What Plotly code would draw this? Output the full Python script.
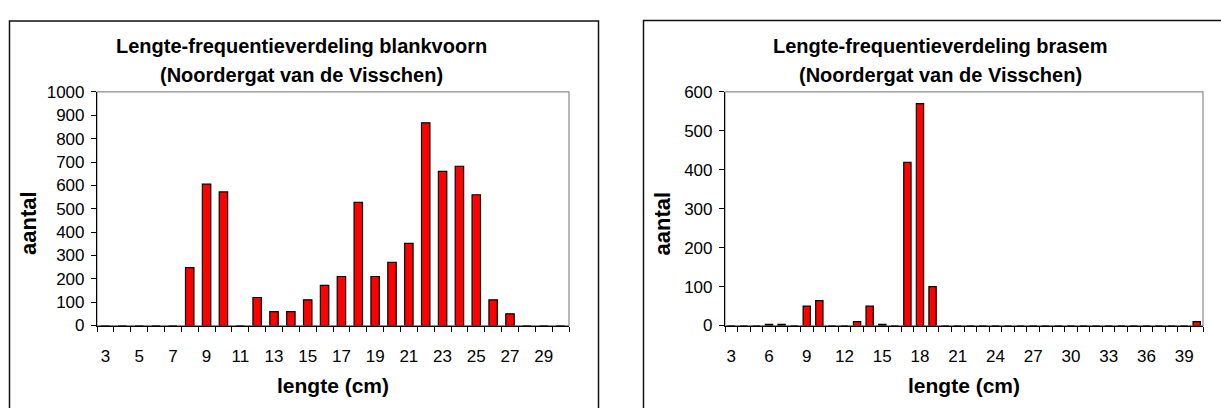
import plotly.graph_objects as go

# Lengte-frequentieverdeling, Noordergat van de Visschen
lengte_blankvoorn = list(range(3, 31))
aantal_blankvoorn = [0, 0, 0, 0, 0, 248, 605, 572, 0, 120, 60, 60, 110, 172,
                     210, 527, 210, 270, 352, 868, 660, 682, 560, 110, 50, 0, 0, 0]

lengte_brasem = list(range(3, 41))
aantal_brasem = [0, 0, 0, 3, 3, 0, 50, 64, 0, 0, 10, 50, 3, 0, 419, 570, 100,
                 0, 0, 0, 0, 0, 0, 0, 0, 0, 0, 0, 0, 0, 0, 0, 0, 0, 0, 0, 0, 10]

tick_blankvoorn = list(range(3, 30, 2))
tick_brasem = list(range(3, 40, 3))

W, H = 1221, 408
FONT = "Liberation Sans, Arial, sans-serif"


def px(x):
    return x / W


def py(y):
    return 1 - y / H


fig = go.Figure()

fig.add_trace(go.Bar(x=lengte_blankvoorn, y=aantal_blankvoorn, width=0.5,
                     marker=dict(color="#FF0000", line=dict(color="black", width=1.2)),
                     xaxis="x", yaxis="y", showlegend=False))
fig.add_trace(go.Bar(x=lengte_brasem, y=aantal_brasem, width=0.58,
                     marker=dict(color="#FF0000", line=dict(color="black", width=1.2)),
                     xaxis="x2", yaxis="y2", showlegend=False))

ydom = [py(332), py(87)]

common_x = dict(showgrid=False, zeroline=False, showline=True, linecolor="black",
                linewidth=1.2, ticks="", tickfont=dict(family=FONT, size=17, color="black"),
                ticklabelstandoff=15)
common_y = dict(showgrid=False, zeroline=False, showline=True, linecolor="black",
                linewidth=1.2, ticks="outside", ticklen=5, tickcolor="black",
                tickwidth=1.2, tickfont=dict(family=FONT, size=17, color="black"),
                ticklabelstandoff=3)

fig.update_layout(
    width=W, height=H,
    margin=dict(l=0, r=0, t=0, b=0),
    paper_bgcolor="white", plot_bgcolor="white",
    xaxis=dict(domain=[px(97), px(569)], range=[2.5, 30.5], tickmode="array",
               tickvals=tick_blankvoorn, ticktext=[str(v) for v in tick_blankvoorn],
               minor=dict(tickmode="array", tickvals=[v + 0.5 for v in range(2, 31)],
                          ticks="outside", ticklen=5, tickcolor="black", tickwidth=1.2),
               anchor="y", **common_x),
    yaxis=dict(domain=ydom, range=[0, 1000], dtick=100, anchor="x", **common_y),
    xaxis2=dict(domain=[px(725), px(1203)], range=[2.5, 40.5], tickmode="array",
                tickvals=tick_brasem, ticktext=[str(v) for v in tick_brasem],
                minor=dict(tickmode="array", tickvals=[v + 0.5 for v in range(2, 41)],
                           ticks="outside", ticklen=5, tickcolor="black", tickwidth=1.2),
                anchor="y2", **common_x),
    yaxis2=dict(domain=ydom, range=[0, 600], dtick=100, anchor="x2", **common_y),
)

shapes = []
# chart frames
shapes.append(dict(type="rect", xref="paper", yref="paper",
                   x0=px(9.5), x1=px(598.5), y0=py(430), y1=py(12.5),
                   line=dict(color="#111", width=1.5), layer="below"))
shapes.append(dict(type="rect", xref="paper", yref="paper",
                   x0=px(643.5), x1=px(1290), y0=py(430), y1=py(12),
                   line=dict(color="#111", width=1.5), layer="below"))
# plot-area borders
for x0, x1 in [(97, 569), (725, 1203)]:
    shapes.append(dict(type="rect", xref="paper", yref="paper",
                       x0=px(x0), x1=px(x1), y0=py(332), y1=py(87),
                       line=dict(color="#8c8c8c", width=1.2), layer="below"))
fig.update_layout(shapes=shapes)

annotations = []
titles = [
    (301, "Lengte-frequentieverdeling blankvoorn"),
    (940, "Lengte-frequentieverdeling brasem"),
]
for cx, text in titles:
    annotations.append(dict(x=px(cx), y=py(39), xref="paper", yref="paper",
                            text=f"<b>{text}</b>", showarrow=False,
                            xanchor="center", yanchor="middle",
                            font=dict(family=FONT, size=20, color="black")))
    annotations.append(dict(x=px(cx), y=py(69), xref="paper", yref="paper",
                            text="<b>(Noordergat van de Visschen)</b>", showarrow=False,
                            xanchor="center", yanchor="middle",
                            font=dict(family=FONT, size=20, color="black")))
for cx in [333, 964]:
    annotations.append(dict(x=px(cx), y=py(395), xref="paper", yref="paper",
                            text="<b>lengte (cm)</b>", showarrow=False,
                            xanchor="center", yanchor="middle",
                            font=dict(family=FONT, size=21, color="black")))
for cx in [28.5, 663]:
    annotations.append(dict(x=px(cx), y=py(225), xref="paper", yref="paper",
                            text="<b>aantal</b>", showarrow=False, textangle=-90,
                            xanchor="center", yanchor="middle",
                            font=dict(family=FONT, size=22, color="black")))
fig.update_layout(annotations=annotations)

fig.write_html("out.html")
